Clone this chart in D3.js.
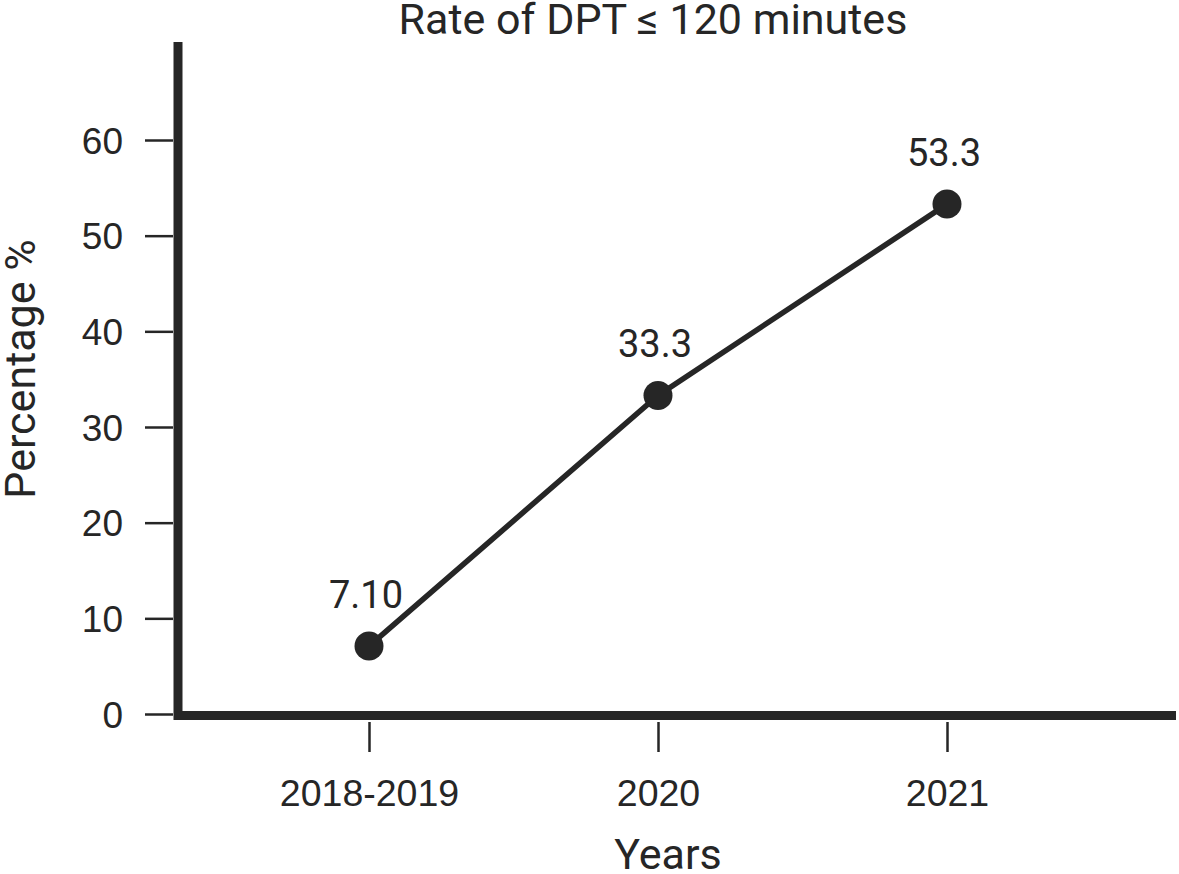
<!DOCTYPE html>
<html>
<head>
<meta charset="utf-8">
<script src="https://cdn.jsdelivr.net/npm/d3@7"></script>
<style>
  body { margin: 0; background: #fff; }
  svg { display: block; font-family: Roboto, "Noto Sans", sans-serif; }
</style>
</head>
<body>
<script>
// chart data
var years = ["2018-2019", "2020", "2021"];
var rates = [7.1, 33.3, 53.3];
var rateLabels = ["7.10", "33.3", "53.3"];
var yTicks = [0, 10, 20, 30, 40, 50, 60];

var w = 1179;
var h = 874;
var ink = "#262626";

var svg = d3.select("body")
            .append("svg")
            .attr("width", w)
            .attr("height", h);

var x = d3.scalePoint()
          .domain(years)
          .range([369, 947]);

var y = d3.scaleLinear()
          .domain([0, 60])
          .range([714, 140]);

// y ticks
var yAxis = svg.append("g")
  .attr("transform", "translate(173,0)")
  .call(d3.axisLeft(y).tickValues(yTicks).tickSize(28).tickPadding(22));
yAxis.select(".domain").remove();
yAxis.selectAll("line").attr("stroke", ink).attr("stroke-width", 2.5);
yAxis.selectAll("text")
  .attr("fill", ink)
  .style("font-size", "37px")
  .attr("dy", "0.36em");

// x ticks
var xAxis = svg.append("g")
  .attr("transform", "translate(0,722)")
  .call(d3.axisBottom(x).tickSize(30).tickPadding(0));
xAxis.select(".domain").remove();
xAxis.selectAll("line").attr("stroke", ink).attr("stroke-width", 2.5);
xAxis.selectAll("text")
  .attr("fill", ink)
  .attr("y", 84)
  .attr("dy", 0)
  .style("font-size", "37.5px");

// axis lines
svg.append("line")
   .attr("x1", 178).attr("x2", 178)
   .attr("y1", 42).attr("y2", 720)
   .attr("stroke", ink).attr("stroke-width", 9);
svg.append("line")
   .attr("x1", 174).attr("x2", 1176)
   .attr("y1", 715.5).attr("y2", 715.5)
   .attr("stroke", ink).attr("stroke-width", 9);

// line
var line = d3.line()
  .x(function(d, i){ return x(years[i]); })
  .y(function(d){ return y(d); });

svg.append("path")
   .datum(rates)
   .attr("d", line)
   .attr("fill", "none")
   .attr("stroke", ink)
   .attr("stroke-width", 5.5);

svg.selectAll("circle")
   .data(rates)
   .enter()
   .append("circle")
   .attr("cx", function(d, i){ return x(years[i]); })
   .attr("cy", function(d){ return y(d); })
   .attr("r", 14.5)
   .attr("fill", ink);

svg.selectAll(".val")
   .data(rates)
   .enter()
   .append("text")
   .attr("class", "val")
   .attr("x", function(d, i){ return x(years[i]) - 3; })
   .attr("y", function(d){ return y(d) - 38; })
   .attr("text-anchor", "middle")
   .attr("fill", ink)
   .style("font-size", "38px")
   .text(function(d, i){ return rateLabels[i]; });

// titles
svg.append("text")
   .attr("x", 653).attr("y", 34)
   .attr("text-anchor", "middle")
   .attr("fill", ink)
   .style("font-size", "43px")
   .text("Rate of DPT \u2264 120 minutes");

svg.append("text")
   .attr("x", 668).attr("y", 869)
   .attr("text-anchor", "middle")
   .attr("fill", ink)
   .style("font-size", "43px")
   .text("Years");

svg.append("text")
   .attr("transform", "translate(35,369) rotate(-90)")
   .attr("text-anchor", "middle")
   .attr("fill", ink)
   .style("font-size", "43px")
   .text("Percentage %");
</script>
</body>
</html>
